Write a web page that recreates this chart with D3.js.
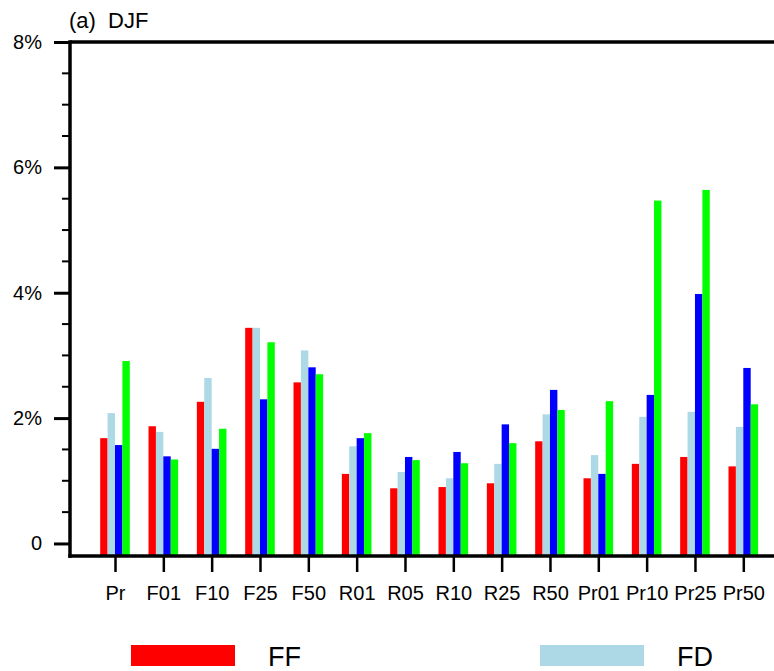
<!DOCTYPE html>
<html>
<head>
<meta charset="utf-8">
<script src="https://cdn.jsdelivr.net/npm/d3@7"></script>
<style>
  body { margin: 0; background: #fff; }
  svg { display: block; }
  text { font-family: "Liberation Sans", Arial, sans-serif; fill: #000; }
</style>
</head>
<body>
<div id="chart"></div>
<script>
var categories = ["Pr", "F01", "F10", "F25", "F50", "R01", "R05", "R10", "R25", "R50", "Pr01", "Pr10", "Pr25", "Pr50"];
var seriesNames = ["FF", "FD", "S3", "S4"];
var seriesColors = ["#ff0000", "#add8e6", "#0000ff", "#00ff00"];
var ff = [1.68, 1.87, 2.26, 3.44, 2.57, 1.11, 0.88, 0.90, 0.96, 1.63, 1.04, 1.27, 1.38, 1.23];
var fd = [2.08, 1.78, 2.64, 3.44, 3.08, 1.55, 1.14, 1.04, 1.27, 2.06, 1.41, 2.02, 2.10, 1.86];
var s3 = [1.57, 1.39, 1.51, 2.30, 2.81, 1.68, 1.38, 1.46, 1.90, 2.45, 1.11, 2.37, 3.98, 2.80];
var s4 = [2.91, 1.34, 1.83, 3.21, 2.70, 1.76, 1.33, 1.28, 1.60, 2.13, 2.27, 5.47, 5.64, 2.22];
var yMajor = [0, 2, 4, 6, 8];
var yLabels = ["0", "2%", "4%", "6%", "8%"];
var legendShown = 2;

var W = 774, H = 671;
var mLeft = 70, mRight = 800, mTop = 42, mBottom = 556;

var svg = d3.select("#chart").append("svg")
    .attr("width", W)
    .attr("height", H);

var x = d3.scaleLinear()
    .domain([0, categories.length - 1])
    .range([115, 743.3]);

var y = d3.scaleLinear()
    .domain([-0.2, 8])
    .range([mBottom, mTop]);

var barW = 7.4;
var series = [ff, fd, s3, s4];

// bars
series.forEach(function(vals, s) {
  svg.append("g")
    .selectAll("rect")
    .data(vals)
    .enter().append("rect")
      .attr("x", (d, i) => x(i) + (s - 2) * barW)
      .attr("width", barW)
      .attr("y", d => y(d))
      .attr("height", d => y(-0.2) - y(d))
      .attr("fill", seriesColors[s]);
});

// top border
svg.append("path")
    .attr("d", `M${mLeft},${mTop}H${mRight}`)
    .attr("stroke", "#000").attr("stroke-width", 3.5);

// y axis
var yAxis = d3.axisLeft(y)
    .tickValues(yMajor)
    .tickSize(16)
    .tickPadding(12)
    .tickFormat((d, i) => yLabels[i]);

var gy = svg.append("g")
    .attr("transform", `translate(${mLeft},0)`)
    .call(yAxis);
gy.select(".domain").remove();
gy.selectAll(".tick line").attr("stroke-width", 3);
gy.selectAll(".tick text").attr("font-size", 20).attr("font-family", "Liberation Sans, Arial, sans-serif");

var minor = d3.range(0.5, 8, 0.5).filter(d => d % 2 !== 0);
svg.append("g").selectAll("path")
    .data(minor)
  .enter().append("path")
    .attr("d", d => `M${mLeft - 8},${y(d)}H${mLeft}`)
    .attr("stroke", "#000").attr("stroke-width", 2);

svg.append("path")
    .attr("d", `M${mLeft},${mTop - 1.75}V${mBottom + 1.75}`)
    .attr("stroke", "#000").attr("stroke-width", 3.5);

// x axis
var xAxis = d3.axisBottom(x)
    .tickValues(d3.range(categories.length))
    .tickSize(16)
    .tickPadding(14)
    .tickFormat(i => categories[i]);

var gx = svg.append("g")
    .attr("transform", `translate(0,${mBottom})`)
    .call(xAxis);
gx.select(".domain").remove();
gx.selectAll(".tick line").attr("stroke-width", 2.5);
gx.selectAll(".tick text").attr("font-size", 20).attr("font-family", "Liberation Sans, Arial, sans-serif");

svg.append("path")
    .attr("d", `M${mLeft - 1.75},${mBottom}H${mRight}`)
    .attr("stroke", "#000").attr("stroke-width", 3.5);

// title
var title = svg.append("text")
    .attr("x", 69)
    .attr("y", 28)
    .attr("font-size", 22);
title.append("tspan").text("(a)");
title.append("tspan").attr("dx", 6).text(" DJF");

// legend
var leg = svg.append("g").selectAll("g")
    .data(seriesNames.slice(0, legendShown))
  .enter().append("g")
    .attr("transform", (d, i) => `translate(${131 + i * 409},645)`);

leg.append("rect")
    .attr("width", 104)
    .attr("height", 21)
    .attr("fill", (d, i) => seriesColors[i]);

leg.append("text")
    .attr("x", 137)
    .attr("y", 21)
    .attr("font-size", 27)
    .attr("font-family", "DejaVu Sans Condensed, DejaVu Sans, sans-serif")
    .text(d => d);
</script>
</body>
</html>
